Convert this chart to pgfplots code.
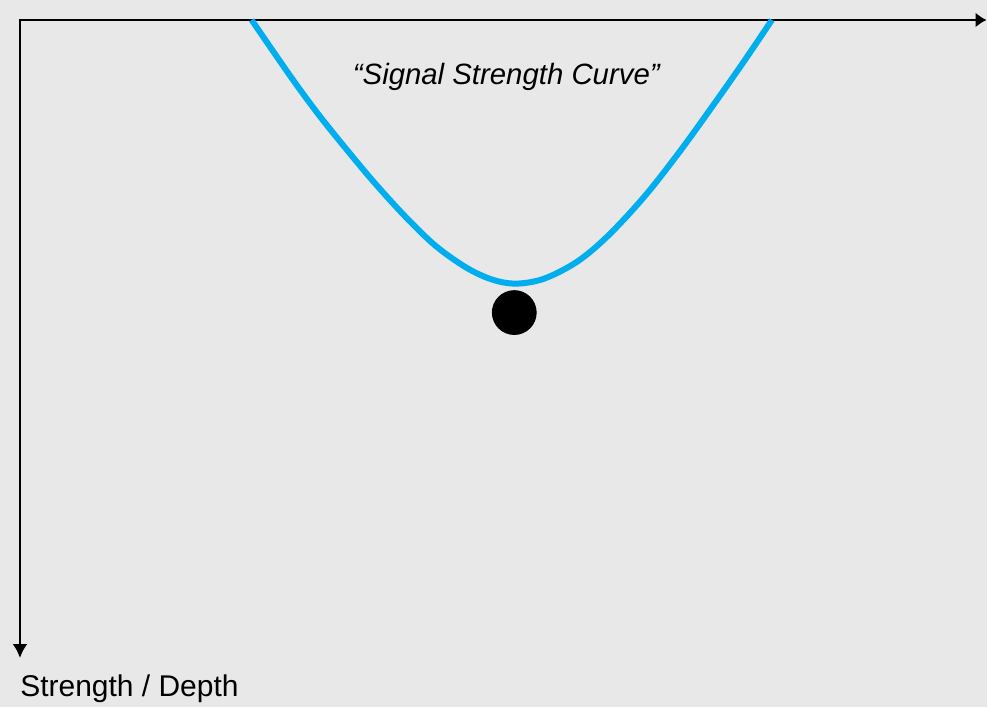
\documentclass[border=0pt]{standalone}
\usepackage{pgfplots}
\pgfplotsset{compat=1.18}
\usepackage{fontspec}
\setmainfont{Liberation Sans}
\usetikzlibrary{arrows.meta}
\definecolor{bg}{HTML}{E8E8E8}
\definecolor{curve}{HTML}{00AEEF}
\begin{document}
\begin{tikzpicture}
\fill[bg] (0,0) rectangle (494pt,354pt);
\begin{axis}[
  at={(0,0)}, anchor=south west,
  scale only axis, width=494pt, height=354pt,
  xmin=0, xmax=988, ymin=0, ymax=708, y dir=reverse,
  hide axis, clip=false,
]
\draw[line width=1.4pt, -{Latex[length=5.5pt,width=7.5pt]}] (axis cs:19,20) -- (axis cs:988,20);
\draw[line width=1.4pt, -{Latex[length=7pt,width=7.5pt]}] (axis cs:20,19) -- (axis cs:20,659);
\addplot[curve, line width=3pt, smooth, tension=0.55] coordinates {
(252,20) (292,78) (320,116) (349,152) (375,183) (406,217) (436,246) (467,268)
(493,280) (517,284) (545,279) (578,262) (609,236) (646,196) (682,150)
(718,100) (746,60) (773,20)};
\addplot[only marks, mark=*, mark size=11pt, black] coordinates {(515,313)};
\node[font=\fontsize{14.7}{17}\selectfont\itshape, anchor=base, inner sep=0pt] at (axis cs:507,85) {“Signal Strength Curve”};
\node[font=\fontsize{15}{17}\selectfont, anchor=base west, inner sep=0pt] at (axis cs:20,697) {Strength / Depth};
\end{axis}
\end{tikzpicture}
\end{document}
